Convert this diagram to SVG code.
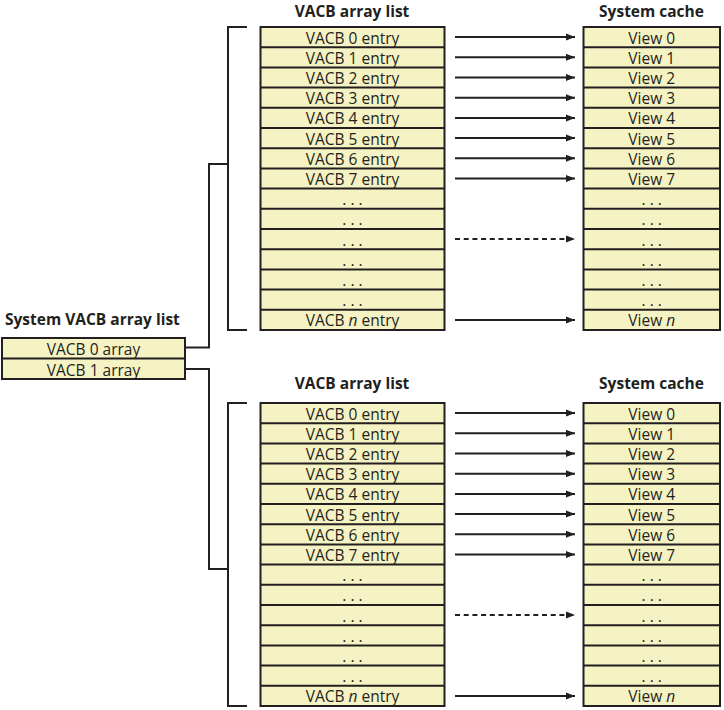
<svg xmlns="http://www.w3.org/2000/svg" width="724" height="710" viewBox="0 0 724 710">
<defs>
<style>
.bx{fill:#F5F3C4;stroke:#231F20;stroke-width:2}
.rl{stroke:#231F20;stroke-width:2}
.t{font-family:"Open Sans","Noto Sans",sans-serif;font-size:15.5px;fill:#231F20;text-anchor:middle}
.h{font-family:"Open Sans","Noto Sans",sans-serif;font-size:15.5px;font-weight:bold;fill:#231F20;text-anchor:middle}
.c{fill:none;stroke:#231F20;stroke-width:2}
.a{stroke:#231F20;stroke-width:2;marker-end:url(#ah)}
.d{stroke:#231F20;stroke-width:2;stroke-dasharray:5,3.7;marker-end:url(#ah)}
</style>
<marker id="ah" markerUnits="userSpaceOnUse" markerWidth="10" markerHeight="8" refX="9" refY="4" orient="auto">
<path d="M0,0.5 L9,4 L0,7.5 z" fill="#231F20"/>
</marker>
</defs>
<rect width="724" height="710" fill="#fff"/>

<g id="connectors">
<path class="c" d="M247,27 H228 V330 H247"/>
<path class="c" d="M247,403 H228 V706 H247"/>
<path class="c" d="M185,347.5 H209 V164 H228"/>
<path class="c" d="M185,369 H209 V569 H228"/>
<line class="a" x1="455" y1="37.1" x2="575" y2="37.1"/>
<line class="a" x1="455" y1="57.3" x2="575" y2="57.3"/>
<line class="a" x1="455" y1="77.5" x2="575" y2="77.5"/>
<line class="a" x1="455" y1="97.7" x2="575" y2="97.7"/>
<line class="a" x1="455" y1="117.9" x2="575" y2="117.9"/>
<line class="a" x1="455" y1="138.1" x2="575" y2="138.1"/>
<line class="a" x1="455" y1="158.3" x2="575" y2="158.3"/>
<line class="a" x1="455" y1="178.5" x2="575" y2="178.5"/>
<line class="d" x1="455" y1="239.1" x2="575" y2="239.1"/>
<line class="a" x1="455" y1="319.9" x2="575" y2="319.9"/>
<line class="a" x1="455" y1="413.1" x2="575" y2="413.1"/>
<line class="a" x1="455" y1="433.3" x2="575" y2="433.3"/>
<line class="a" x1="455" y1="453.5" x2="575" y2="453.5"/>
<line class="a" x1="455" y1="473.7" x2="575" y2="473.7"/>
<line class="a" x1="455" y1="493.9" x2="575" y2="493.9"/>
<line class="a" x1="455" y1="514.1" x2="575" y2="514.1"/>
<line class="a" x1="455" y1="534.3" x2="575" y2="534.3"/>
<line class="a" x1="455" y1="554.5" x2="575" y2="554.5"/>
<line class="d" x1="455" y1="615.1" x2="575" y2="615.1"/>
<line class="a" x1="455" y1="695.9" x2="575" y2="695.9"/>
</g>

<g id="system-vacb-array-list">
<text class="h" x="5" y="325" style="text-anchor:start">System VACB array list</text>
<rect class="bx" x="2" y="338" width="183" height="41"/>
<line class="rl" x1="2" y1="358.5" x2="185" y2="358.5"/>
<text class="t" x="93.5" y="355">VACB 0 array</text>
<text class="t" x="93.5" y="375.5">VACB 1 array</text>
</g>

<g id="vacb-array-list-1">
<text class="h" x="352" y="17">VACB array list</text>
<rect class="bx" x="260.5" y="27" width="184" height="303"/>
<g class="rl">
<line x1="260.5" y1="47.2" x2="444.5" y2="47.2"/><line x1="260.5" y1="67.4" x2="444.5" y2="67.4"/><line x1="260.5" y1="87.6" x2="444.5" y2="87.6"/><line x1="260.5" y1="107.8" x2="444.5" y2="107.8"/><line x1="260.5" y1="128" x2="444.5" y2="128"/><line x1="260.5" y1="148.2" x2="444.5" y2="148.2"/><line x1="260.5" y1="168.4" x2="444.5" y2="168.4"/><line x1="260.5" y1="188.6" x2="444.5" y2="188.6"/><line x1="260.5" y1="208.8" x2="444.5" y2="208.8"/><line x1="260.5" y1="229" x2="444.5" y2="229"/><line x1="260.5" y1="249.2" x2="444.5" y2="249.2"/><line x1="260.5" y1="269.4" x2="444.5" y2="269.4"/><line x1="260.5" y1="289.6" x2="444.5" y2="289.6"/><line x1="260.5" y1="309.8" x2="444.5" y2="309.8"/>
</g>
<text class="t" x="352.5" y="43.5">VACB 0 entry</text>
<text class="t" x="352.5" y="63.7">VACB 1 entry</text>
<text class="t" x="352.5" y="83.9">VACB 2 entry</text>
<text class="t" x="352.5" y="104.1">VACB 3 entry</text>
<text class="t" x="352.5" y="124.3">VACB 4 entry</text>
<text class="t" x="352.5" y="144.5">VACB 5 entry</text>
<text class="t" x="352.5" y="164.7">VACB 6 entry</text>
<text class="t" x="352.5" y="184.9">VACB 7 entry</text>
<text class="t" x="352.5" y="205.1">. . .</text>
<text class="t" x="352.5" y="225.3">. . .</text>
<text class="t" x="352.5" y="245.5">. . .</text>
<text class="t" x="352.5" y="265.7">. . .</text>
<text class="t" x="352.5" y="285.9">. . .</text>
<text class="t" x="352.5" y="306.1">. . .</text>
<text class="t" x="352.5" y="326.3">VACB <tspan font-style="italic">n</tspan> entry</text>
</g>

<g id="system-cache-1">
<text class="h" x="651.5" y="17">System cache</text>
<rect class="bx" x="583.5" y="27" width="136.5" height="303"/>
<g class="rl">
<line x1="583.5" y1="47.2" x2="720" y2="47.2"/><line x1="583.5" y1="67.4" x2="720" y2="67.4"/><line x1="583.5" y1="87.6" x2="720" y2="87.6"/><line x1="583.5" y1="107.8" x2="720" y2="107.8"/><line x1="583.5" y1="128" x2="720" y2="128"/><line x1="583.5" y1="148.2" x2="720" y2="148.2"/><line x1="583.5" y1="168.4" x2="720" y2="168.4"/><line x1="583.5" y1="188.6" x2="720" y2="188.6"/><line x1="583.5" y1="208.8" x2="720" y2="208.8"/><line x1="583.5" y1="229" x2="720" y2="229"/><line x1="583.5" y1="249.2" x2="720" y2="249.2"/><line x1="583.5" y1="269.4" x2="720" y2="269.4"/><line x1="583.5" y1="289.6" x2="720" y2="289.6"/><line x1="583.5" y1="309.8" x2="720" y2="309.8"/>
</g>
<text class="t" x="651.75" y="43.5">View 0</text>
<text class="t" x="651.75" y="63.7">View 1</text>
<text class="t" x="651.75" y="83.9">View 2</text>
<text class="t" x="651.75" y="104.1">View 3</text>
<text class="t" x="651.75" y="124.3">View 4</text>
<text class="t" x="651.75" y="144.5">View 5</text>
<text class="t" x="651.75" y="164.7">View 6</text>
<text class="t" x="651.75" y="184.9">View 7</text>
<text class="t" x="651.75" y="205.1">. . .</text>
<text class="t" x="651.75" y="225.3">. . .</text>
<text class="t" x="651.75" y="245.5">. . .</text>
<text class="t" x="651.75" y="265.7">. . .</text>
<text class="t" x="651.75" y="285.9">. . .</text>
<text class="t" x="651.75" y="306.1">. . .</text>
<text class="t" x="651.75" y="326.3">View <tspan font-style="italic">n</tspan></text>
</g>

<g id="vacb-array-list-2">
<text class="h" x="352" y="389">VACB array list</text>
<rect class="bx" x="260.5" y="403" width="184" height="303"/>
<g class="rl">
<line x1="260.5" y1="423.2" x2="444.5" y2="423.2"/><line x1="260.5" y1="443.4" x2="444.5" y2="443.4"/><line x1="260.5" y1="463.6" x2="444.5" y2="463.6"/><line x1="260.5" y1="483.8" x2="444.5" y2="483.8"/><line x1="260.5" y1="504" x2="444.5" y2="504"/><line x1="260.5" y1="524.2" x2="444.5" y2="524.2"/><line x1="260.5" y1="544.4" x2="444.5" y2="544.4"/><line x1="260.5" y1="564.6" x2="444.5" y2="564.6"/><line x1="260.5" y1="584.8" x2="444.5" y2="584.8"/><line x1="260.5" y1="605" x2="444.5" y2="605"/><line x1="260.5" y1="625.2" x2="444.5" y2="625.2"/><line x1="260.5" y1="645.4" x2="444.5" y2="645.4"/><line x1="260.5" y1="665.6" x2="444.5" y2="665.6"/><line x1="260.5" y1="685.8" x2="444.5" y2="685.8"/>
</g>
<text class="t" x="352.5" y="419.5">VACB 0 entry</text>
<text class="t" x="352.5" y="439.7">VACB 1 entry</text>
<text class="t" x="352.5" y="459.9">VACB 2 entry</text>
<text class="t" x="352.5" y="480.1">VACB 3 entry</text>
<text class="t" x="352.5" y="500.3">VACB 4 entry</text>
<text class="t" x="352.5" y="520.5">VACB 5 entry</text>
<text class="t" x="352.5" y="540.7">VACB 6 entry</text>
<text class="t" x="352.5" y="560.9">VACB 7 entry</text>
<text class="t" x="352.5" y="581.1">. . .</text>
<text class="t" x="352.5" y="601.3">. . .</text>
<text class="t" x="352.5" y="621.5">. . .</text>
<text class="t" x="352.5" y="641.7">. . .</text>
<text class="t" x="352.5" y="661.9">. . .</text>
<text class="t" x="352.5" y="682.1">. . .</text>
<text class="t" x="352.5" y="702.3">VACB <tspan font-style="italic">n</tspan> entry</text>
</g>

<g id="system-cache-2">
<text class="h" x="651.5" y="389">System cache</text>
<rect class="bx" x="583.5" y="403" width="136.5" height="303"/>
<g class="rl">
<line x1="583.5" y1="423.2" x2="720" y2="423.2"/><line x1="583.5" y1="443.4" x2="720" y2="443.4"/><line x1="583.5" y1="463.6" x2="720" y2="463.6"/><line x1="583.5" y1="483.8" x2="720" y2="483.8"/><line x1="583.5" y1="504" x2="720" y2="504"/><line x1="583.5" y1="524.2" x2="720" y2="524.2"/><line x1="583.5" y1="544.4" x2="720" y2="544.4"/><line x1="583.5" y1="564.6" x2="720" y2="564.6"/><line x1="583.5" y1="584.8" x2="720" y2="584.8"/><line x1="583.5" y1="605" x2="720" y2="605"/><line x1="583.5" y1="625.2" x2="720" y2="625.2"/><line x1="583.5" y1="645.4" x2="720" y2="645.4"/><line x1="583.5" y1="665.6" x2="720" y2="665.6"/><line x1="583.5" y1="685.8" x2="720" y2="685.8"/>
</g>
<text class="t" x="651.75" y="419.5">View 0</text>
<text class="t" x="651.75" y="439.7">View 1</text>
<text class="t" x="651.75" y="459.9">View 2</text>
<text class="t" x="651.75" y="480.1">View 3</text>
<text class="t" x="651.75" y="500.3">View 4</text>
<text class="t" x="651.75" y="520.5">View 5</text>
<text class="t" x="651.75" y="540.7">View 6</text>
<text class="t" x="651.75" y="560.9">View 7</text>
<text class="t" x="651.75" y="581.1">. . .</text>
<text class="t" x="651.75" y="601.3">. . .</text>
<text class="t" x="651.75" y="621.5">. . .</text>
<text class="t" x="651.75" y="641.7">. . .</text>
<text class="t" x="651.75" y="661.9">. . .</text>
<text class="t" x="651.75" y="682.1">. . .</text>
<text class="t" x="651.75" y="702.3">View <tspan font-style="italic">n</tspan></text>
</g>
</svg>
